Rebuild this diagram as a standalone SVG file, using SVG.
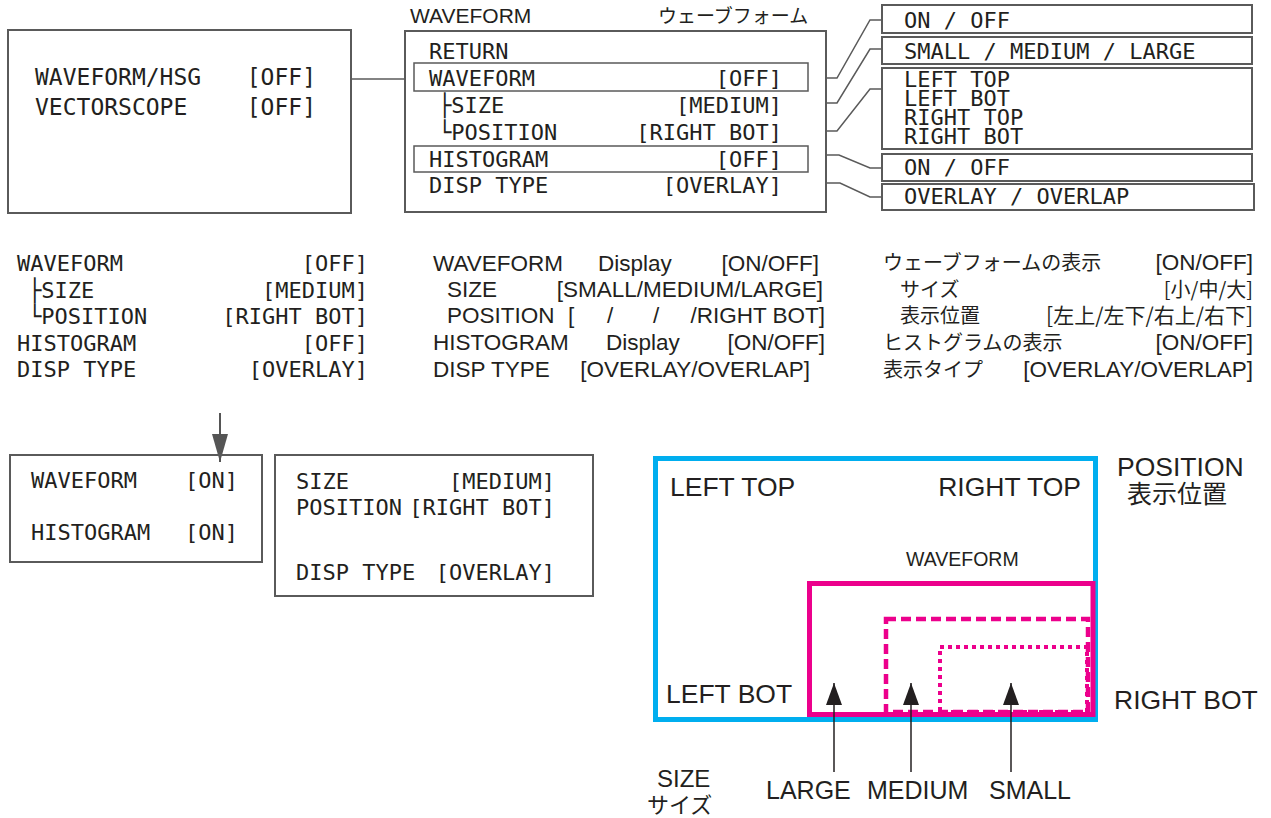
<svg xmlns="http://www.w3.org/2000/svg" width="1271" height="818" viewBox="0 0 1271 818">
<defs>
<marker id="ahGray" markerUnits="userSpaceOnUse" markerWidth="28" markerHeight="16" refX="28" refY="8" orient="auto">
<path d="M0,0 L28,8 L0,16 z" fill="#555"/>
</marker>
<marker id="ahBlack" markerUnits="userSpaceOnUse" markerWidth="22" markerHeight="16" refX="22" refY="8" orient="auto">
<path d="M0,0 L22,8 L0,16 z" fill="#231f20"/>
</marker>
<style>
.box{fill:none;stroke:#5a5a5a;stroke-width:2}
.hl{fill:none;stroke:#5a5a5a;stroke-width:1.5}
.conn{fill:none;stroke:#5a5a5a;stroke-width:1.5}
.mono{font-family:"DejaVu Sans Mono","Liberation Mono",monospace;font-size:22px;fill:#231f20}
.m23{font-size:23px}
.sans{font-family:"Liberation Sans","Noto Sans CJK JP",sans-serif;font-size:22.5px;fill:#231f20}
.jp{font-family:"Noto Sans CJK JP",sans-serif;font-size:20px;fill:#231f20}
.end{text-anchor:end}
.big{font-size:26.5px}
.cyan{fill:none;stroke:#00AEEF;stroke-width:5}
.mag{fill:none;stroke:#EC008C;stroke-width:5}
.magdash{fill:none;stroke:#EC008C;stroke-width:4.5;stroke-dasharray:10 5}
.magdot{fill:none;stroke:#EC008C;stroke-width:4;stroke-dasharray:4 4}
.arr{fill:none;stroke:#231f20;stroke-width:1.5}
</style>
</defs>
<rect width="1271" height="818" fill="#ffffff"/>

<g id="connectors">
<line class="conn" x1="351" y1="79" x2="405" y2="79"/>
<path class="conn" d="M826,78 H837 L870,20 H882"/>
<path class="conn" d="M826,103 H837 L870,49 H882"/>
<path class="conn" d="M826,131 H837 L870,89 H882"/>
<path class="conn" d="M826,155 H839 L870,168 H882"/>
<path class="conn" d="M826,183 H840 L870,197 H882"/>
<line x1="220" y1="413" x2="220" y2="462" stroke="#555" stroke-width="2" marker-end="url(#ahGray)"/>
</g>

<g id="main-menu">
<rect class="box" x="8" y="30" width="343" height="183"/>
<text class="mono m23" x="35" y="85">WAVEFORM/HSG</text>
<text class="mono m23 end" x="316" y="85">[OFF]</text>
<text class="mono m23" x="35" y="115">VECTORSCOPE</text>
<text class="mono m23 end" x="316" y="115">[OFF]</text>
</g>

<g id="waveform-menu">
<text class="sans" x="410" y="23" style="font-size:21px">WAVEFORM</text>
<text class="jp" x="658" y="23" style="font-size:19px">ウェーブフォーム</text>
<rect class="box" x="405" y="31" width="421" height="181"/>
<rect class="hl" x="414" y="63" width="394" height="28"/>
<rect class="hl" x="414" y="146" width="394" height="26"/>
<text class="mono" x="429" y="59">RETURN</text>
<text class="mono" x="429" y="86">WAVEFORM</text>
<text class="mono end" x="782" y="86">[OFF]</text>
<text class="mono" x="438" y="113">├SIZE</text>
<text class="mono end" x="782" y="113">[MEDIUM]</text>
<text class="mono" x="438" y="140">└POSITION</text>
<text class="mono end" x="782" y="140">[RIGHT BOT]</text>
<text class="mono" x="429" y="167">HISTOGRAM</text>
<text class="mono end" x="782" y="167">[OFF]</text>
<text class="mono" x="429" y="193">DISP TYPE</text>
<text class="mono end" x="782" y="193">[OVERLAY]</text>
</g>

<g id="opt-waveform">
<rect class="box" x="882" y="5" width="370" height="28"/>
<text class="mono" x="904" y="28">ON / OFF</text>
</g>
<g id="opt-size">
<rect class="box" x="882" y="37" width="370" height="27"/>
<text class="mono" x="904" y="59">SMALL / MEDIUM / LARGE</text>
</g>
<g id="opt-position">
<rect class="box" x="882" y="68" width="370" height="81"/>
<text class="mono" x="904" y="87">LEFT TOP</text>
<text class="mono" x="904" y="106">LEFT BOT</text>
<text class="mono" x="904" y="125">RIGHT TOP</text>
<text class="mono" x="904" y="144">RIGHT BOT</text>
</g>
<g id="opt-histogram">
<rect class="box" x="882" y="154" width="370" height="27"/>
<text class="mono" x="904" y="175">ON / OFF</text>
</g>
<g id="opt-disptype">
<rect class="box" x="882" y="184" width="372" height="26"/>
<text class="mono" x="904" y="204">OVERLAY / OVERLAP</text>
</g>

<g id="settings-list">
<text class="mono" x="17" y="271">WAVEFORM</text>
<text class="mono end" x="368" y="271">[OFF]</text>
<text class="mono" x="28" y="298">├SIZE</text>
<text class="mono end" x="368" y="298">[MEDIUM]</text>
<text class="mono" x="28" y="324">└POSITION</text>
<text class="mono end" x="368" y="324">[RIGHT BOT]</text>
<text class="mono" x="17" y="351">HISTOGRAM</text>
<text class="mono end" x="368" y="351">[OFF]</text>
<text class="mono" x="17" y="377">DISP TYPE</text>
<text class="mono end" x="368" y="377">[OVERLAY]</text>
</g>

<g id="settings-en">
<text class="sans" x="433" y="271">WAVEFORM</text>
<text class="sans" x="598" y="271">Display</text>
<text class="sans end" x="819" y="271">[ON/OFF]</text>
<text class="sans" x="447" y="297">SIZE</text>
<text class="sans end" x="823" y="297">[SMALL/MEDIUM/LARGE]</text>
<text class="sans" x="447" y="323">POSITION</text>
<text class="sans" x="568" y="323">[</text>
<text class="sans" x="607" y="323">/</text>
<text class="sans" x="653" y="323">/</text>
<text class="sans end" x="825" y="323">/RIGHT BOT]</text>
<text class="sans" x="433" y="350">HISTOGRAM</text>
<text class="sans" x="606" y="350">Display</text>
<text class="sans end" x="825" y="350">[ON/OFF]</text>
<text class="sans" x="433" y="377">DISP TYPE</text>
<text class="sans end" x="810" y="377">[OVERLAY/OVERLAP]</text>
</g>

<g id="settings-jp">
<text class="jp" x="883" y="270">ウェーブフォームの表示</text>
<text class="sans end" x="1253" y="270">[ON/OFF]</text>
<text class="jp" x="900" y="297">サイズ</text>
<text class="jp end" x="1253" y="297">[小/中/大]</text>
<text class="jp" x="900" y="323">表示位置</text>
<text class="jp end" x="1253" y="323" style="font-size:21px">[左上/左下/右上/右下]</text>
<text class="jp" x="883" y="350">ヒストグラムの表示</text>
<text class="sans end" x="1253" y="350">[ON/OFF]</text>
<text class="jp" x="883" y="377">表示タイプ</text>
<text class="sans end" x="1253" y="377">[OVERLAY/OVERLAP]</text>
</g>

<g id="screen-on">
<rect class="box" x="10" y="455" width="252" height="107"/>
<text class="mono" x="31" y="488">WAVEFORM</text>
<text class="mono end" x="238" y="488">[ON]</text>
<text class="mono" x="31" y="540">HISTOGRAM</text>
<text class="mono end" x="238" y="540">[ON]</text>
</g>

<g id="screen-sub">
<rect class="box" x="275" y="455" width="318" height="141"/>
<text class="mono" x="296" y="489">SIZE</text>
<text class="mono end" x="555" y="489">[MEDIUM]</text>
<text class="mono" x="296" y="515">POSITION</text>
<text class="mono end" x="555" y="515">[RIGHT BOT]</text>
<text class="mono" x="296" y="580">DISP TYPE</text>
<text class="mono end" x="555" y="580">[OVERLAY]</text>
</g>

<g id="position-diagram">
<rect class="cyan" x="655.5" y="458.5" width="440" height="261"/>
<rect class="mag" x="809.5" y="583.5" width="283.5" height="131"/>
<rect class="magdash" x="886" y="619" width="202" height="93"/>
<rect class="magdot" x="940" y="647" width="147" height="65"/>
<text class="sans big" x="670" y="496">LEFT TOP</text>
<text class="sans big end" x="1081" y="496">RIGHT TOP</text>
<text class="sans" x="906" y="566" style="font-size:19.5px">WAVEFORM</text>
<text class="sans big" x="666" y="703">LEFT BOT</text>
<text class="sans big" x="1114" y="709">RIGHT BOT</text>
<text class="sans big" x="1117" y="476">POSITION</text>
<text class="jp" x="1127" y="503" style="font-size:25px">表示位置</text>
<line class="arr" x1="834" y1="772" x2="834" y2="683" marker-end="url(#ahBlack)"/>
<line class="arr" x1="911" y1="772" x2="911" y2="683" marker-end="url(#ahBlack)"/>
<line class="arr" x1="1011" y1="772" x2="1011" y2="683" marker-end="url(#ahBlack)"/>
<text class="sans" x="766" y="799" style="font-size:25px">LARGE</text>
<text class="sans" x="867" y="799" style="font-size:25px">MEDIUM</text>
<text class="sans" x="989" y="799" style="font-size:25px">SMALL</text>
<text class="sans" x="657" y="787" style="font-size:24px">SIZE</text>
<text class="jp" x="647" y="813" style="font-size:22px">サイズ</text>
</g>
</svg>
